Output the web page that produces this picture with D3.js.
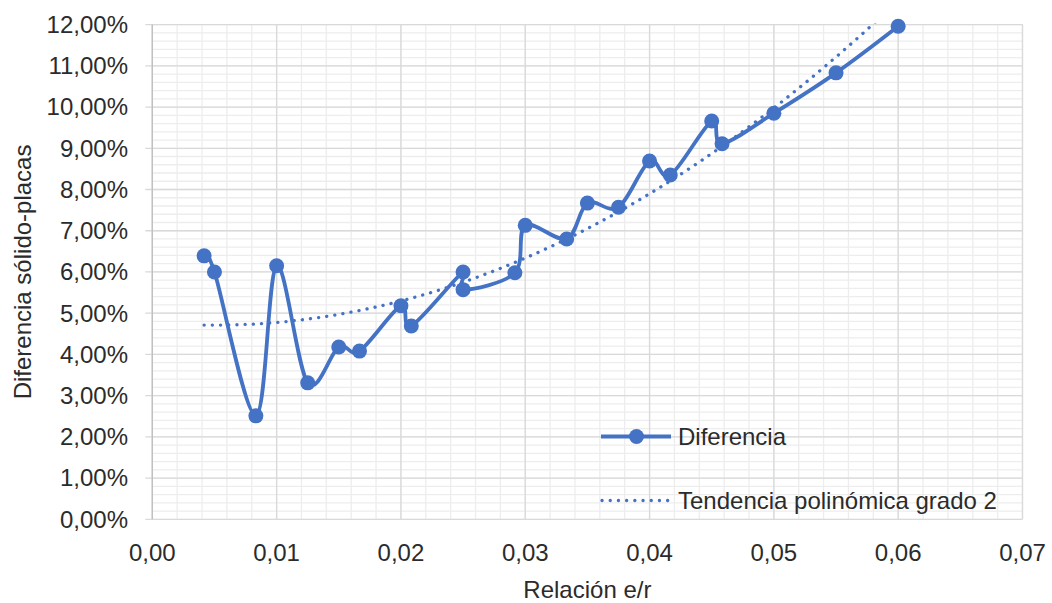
<html>
    <head>
        <script src="https://d3js.org/d3.v7.min.js"></script>
        <style>
            body { margin: 0; background: #fff; }
            text { font-family: "Liberation Sans", Arial, sans-serif; fill: #2b2b2b; }
        </style>
    </head>
    <body>
        <svg id="svg" width="1052" height="603"></svg>
        <script>
            // relacion e/r and diferencia solido-placas (in %)
            var relacion = [0.004167, 0.005, 0.008333, 0.01, 0.0125, 0.015, 0.016667, 0.02, 0.020833,
                            0.025, 0.025, 0.029167, 0.03, 0.033333, 0.035, 0.0375, 0.04, 0.041667,
                            0.045, 0.045833, 0.05, 0.055, 0.06];
            var diferencia = [6.39, 6.00, 2.51, 6.15, 3.31, 4.18, 4.08, 5.18, 4.69,
                              6.00, 5.57, 5.98, 7.13, 6.80, 7.67, 7.57, 8.69, 8.35,
                              9.66, 9.11, 9.85, 10.83, 11.96];
            var xTicks = [0, 0.01, 0.02, 0.03, 0.04, 0.05, 0.06, 0.07];
            var yTicks = [0, 1, 2, 3, 4, 5, 6, 7, 8, 9, 10, 11, 12];
            var seriesNames = ["Diferencia", "Tendencia polinómica grado 2"];

            var svg = d3.select("svg");
            var pLeft = 152.3, pRight = 1022.5, pTop = 24.6, pBottom = 519.3;
            var blue = "#4472C4";

            var x = d3.scaleLinear().domain([0, 0.07]).range([pLeft, pRight]);
            var y = d3.scaleLinear().domain([0, 12]).range([pBottom, pTop]);

            var loc = d3.formatLocale({decimal: ",", thousands: ".", grouping: [3], currency: ["", "€"]});
            var fx = loc.format(".2f");
            var fy = function(d){ return loc.format(".2f")(d) + "%"; };

            // minor grid
            var grid = svg.append("g");
            grid.selectAll(".mx").data(d3.range(0, 0.0701, 0.002)).enter().append("line")
                .attr("x1", d => x(d)).attr("x2", d => x(d)).attr("y1", pTop).attr("y2", pBottom)
                .attr("stroke", "#ededed").attr("stroke-width", 1.3);
            grid.selectAll(".my").data(d3.range(0, 12.01, 0.2)).enter().append("line")
                .attr("x1", pLeft).attr("x2", pRight).attr("y1", d => y(d)).attr("y2", d => y(d))
                .attr("stroke", "#ededed").attr("stroke-width", 1.3);
            // major grid
            grid.selectAll(".gx").data(xTicks).enter().append("line")
                .attr("x1", d => x(d)).attr("x2", d => x(d)).attr("y1", pTop).attr("y2", pBottom)
                .attr("stroke", "#d9d9d9").attr("stroke-width", 1.3);
            grid.selectAll(".gy").data(yTicks).enter().append("line")
                .attr("x1", pLeft - 7).attr("x2", pRight).attr("y1", d => y(d)).attr("y2", d => y(d))
                .attr("stroke", "#d9d9d9").attr("stroke-width", 1.3);
            // left axis line
            svg.append("line").attr("x1", pLeft).attr("x2", pLeft).attr("y1", pTop).attr("y2", pBottom)
                .attr("stroke", "#bfbfbf").attr("stroke-width", 1.3);

            // tick labels
            svg.selectAll(".yl").data(yTicks).enter().append("text")
                .attr("x", 128).attr("y", d => y(d) + 8.4)
                .attr("text-anchor", "end").attr("font-size", 24).text(fy);
            svg.selectAll(".xl").data(xTicks).enter().append("text")
                .attr("x", d => x(d)).attr("y", 561)
                .attr("text-anchor", "middle").attr("font-size", 24).text(fx);

            // axis titles
            svg.append("text").attr("x", (pLeft + pRight) / 2).attr("y", 598)
                .attr("text-anchor", "middle").attr("font-size", 24).text("Relación e/r");
            svg.append("text").attr("transform", "translate(31," + ((pTop + pBottom) / 2) + ") rotate(-90)")
                .attr("text-anchor", "middle").attr("font-size", 24).text("Diferencia sólido-placas");

            // quadratic least squares trend
            var n = relacion.length, S = [0,0,0,0,0], T = [0,0,0];
            for (var i = 0; i < n; i++) {
                var xi = relacion[i], yi = diferencia[i];
                for (var k = 0; k < 5; k++) S[k] += Math.pow(xi, k);
                for (var k = 0; k < 3; k++) T[k] += yi * Math.pow(xi, k);
            }
            var A = [[S[0], S[1], S[2], T[0]], [S[1], S[2], S[3], T[1]], [S[2], S[3], S[4], T[2]]];
            for (var c = 0; c < 3; c++) {
                for (var r = c + 1; r < 3; r++) {
                    var f = A[r][c] / A[c][c];
                    for (var k = c; k < 4; k++) A[r][k] -= f * A[c][k];
                }
            }
            var coef = [0,0,0];
            for (var r = 2; r >= 0; r--) {
                var s = A[r][3];
                for (var k = r + 1; k < 3; k++) s -= A[r][k] * coef[k];
                coef[r] = s / A[r][r];
            }
            var x0 = d3.min(relacion), x1 = d3.max(relacion);
            var trend = d3.range(0, 101).map(function(j){
                var xv = x0 + (x1 - x0) * j / 100;
                return [xv, coef[0] + coef[1] * xv + coef[2] * xv * xv];
            });

            svg.append("clipPath").attr("id", "clip").append("rect")
                .attr("x", pLeft).attr("y", pTop - 1).attr("width", pRight - pLeft).attr("height", pBottom - pTop + 1);

            svg.append("path").datum(trend)
                .attr("clip-path", "url(#clip)")
                .attr("d", d3.line().x(d => x(d[0])).y(d => y(d[1])))
                .attr("fill", "none").attr("stroke", blue).attr("stroke-width", 3.3)
                .attr("stroke-linecap", "round").attr("stroke-dasharray", "0.1 8.1");

            var pts = relacion.map((d, i) => [d, diferencia[i]]);
            svg.append("path").datum(pts)
                .attr("d", d3.line().x(d => x(d[0])).y(d => y(d[1])).curve(d3.curveCardinal.tension(0)))
                .attr("fill", "none").attr("stroke", blue).attr("stroke-width", 3.8)
                .attr("stroke-linejoin", "round");
            svg.selectAll(".pt").data(pts).enter().append("circle")
                .attr("cx", d => x(d[0])).attr("cy", d => y(d[1])).attr("r", 7.5)
                .attr("fill", blue);

            // legend
            var lg = svg.append("g");
            lg.append("line").attr("x1", 601).attr("x2", 671).attr("y1", 436.5).attr("y2", 436.5)
                .attr("stroke", blue).attr("stroke-width", 3.8);
            lg.append("circle").attr("cx", 636.5).attr("cy", 436.5).attr("r", 7.5).attr("fill", blue);
            lg.append("text").attr("x", 678).attr("y", 445).attr("font-size", 24).text(seriesNames[0]);
            lg.append("line").attr("x1", 602).attr("x2", 671).attr("y1", 500.5).attr("y2", 500.5)
                .attr("stroke", blue).attr("stroke-width", 3.3)
                .attr("stroke-linecap", "round").attr("stroke-dasharray", "0.1 8.1");
            lg.append("text").attr("x", 678).attr("y", 509).attr("font-size", 24).text(seriesNames[1]);
        </script>
    </body>
</html>
